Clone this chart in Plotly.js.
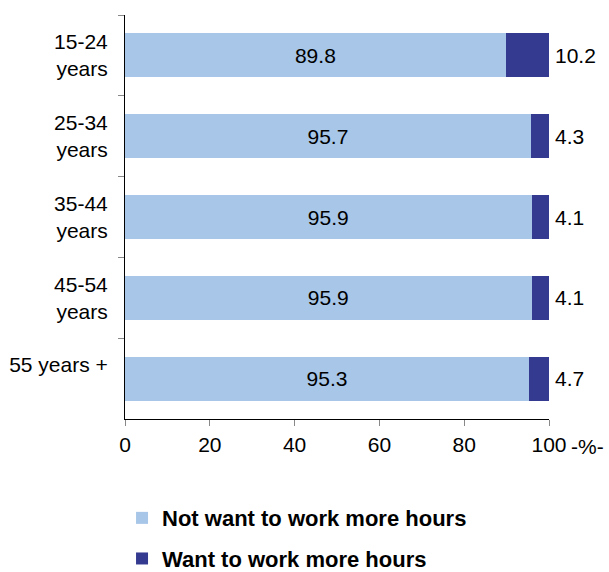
<!DOCTYPE html>
<html>
<head>
<meta charset="utf-8">
<script src="https://cdn.plot.ly/plotly-3.0.1.min.js"></script>
<style>html,body{margin:0;padding:0;background:#fff;}#chart{width:609px;height:572px;}</style>
</head>
<body>
<div id="chart"></div>
<script>
const categories = ["15-24<br>years", "25-34<br>years", "35-44<br>years", "45-54<br>years", "55 years +<br>\u00a0"];
const notWant = [89.8, 95.7, 95.9, 95.9, 95.3];
const want = [10.2, 4.3, 4.1, 4.1, 4.7];
const seriesNames = ["Not want to work more hours", "Want to work more hours"];
const xTicks = [0, 20, 40, 60, 80, 100];

const FONT = "Liberation Sans, Arial, sans-serif";
const FS = 21;

const traces = [
  {
    type: "bar", orientation: "h", y: categories, x: notWant,
    name: "<b>" + seriesNames[0] + "</b>", legendgroup: "a",
    marker: {color: "#a7c6e8", line: {width: 0}},
    text: notWant.map(v => v.toFixed(1)), textposition: "inside",
    insidetextanchor: "middle", textfont: {family: FONT, size: FS, color: "#000"},
    constraintext: "none", width: 0.545, hoverinfo: "skip"
  },
  {
    type: "bar", orientation: "h", y: categories, x: want,
    name: "<b>" + seriesNames[1] + "</b>", legendgroup: "b",
    marker: {color: "#333a90", line: {width: 0}},
    textposition: "none", width: 0.545, hoverinfo: "skip"
  }
];

const annotations = categories.map((c, i) => ({
  x: notWant[i] + want[i], y: c, xref: "x", yref: "y",
  text: want[i].toFixed(1), showarrow: false, xanchor: "left", xshift: 4,
  font: {family: FONT, size: FS, color: "#000"}
}));
annotations.push({
  x: 100, y: 0, xref: "x", yref: "paper", yanchor: "middle", xanchor: "left",
  text: "-%-", showarrow: false, xshift: 20, yshift: -27,
  font: {family: FONT, size: FS, color: "#000"}
});

const layout = {
  width: 609, height: 572,
  margin: {l: 125, r: 60, t: 15, b: 153, pad: 0},
  paper_bgcolor: "#fff", plot_bgcolor: "#fff",
  barmode: "stack", bargap: 0.455,
  font: {family: FONT, size: FS, color: "#000"},
  showlegend: true,
  legend: {
    xref: "paper", yref: "container",
    x: -0.007, y: 0.131, xanchor: "left", yanchor: "top",
    orientation: "v", traceorder: "grouped", tracegroupgap: 9,
    font: {family: FONT, size: 22, color: "#000"}
  },
  xaxis: {
    range: [0, 100], tickvals: xTicks, ticktext: xTicks.map(String),
    showgrid: false, zeroline: false, showline: true, linecolor: "#000", linewidth: 1,
    ticks: "outside", ticklen: 6, tickcolor: "#888", tickwidth: 1,
    ticklabelstandoff: 1, tickangle: 0,
    tickfont: {family: FONT, size: FS, color: "#000"}, fixedrange: true
  },
  yaxis: {
    type: "category", autorange: "reversed",
    showgrid: false, zeroline: false, showline: true, linecolor: "#000", linewidth: 1,
    ticks: "outside", tickson: "boundaries", ticklen: 6, tickcolor: "#888", tickwidth: 1,
    ticklabelstandoff: 12,
    tickfont: {family: FONT, size: FS, color: "#000"}, fixedrange: true
  },
  annotations: annotations
};

Plotly.newPlot("chart", traces, layout, {displayModeBar: false, staticPlot: true});
</script>
</body>
</html>
